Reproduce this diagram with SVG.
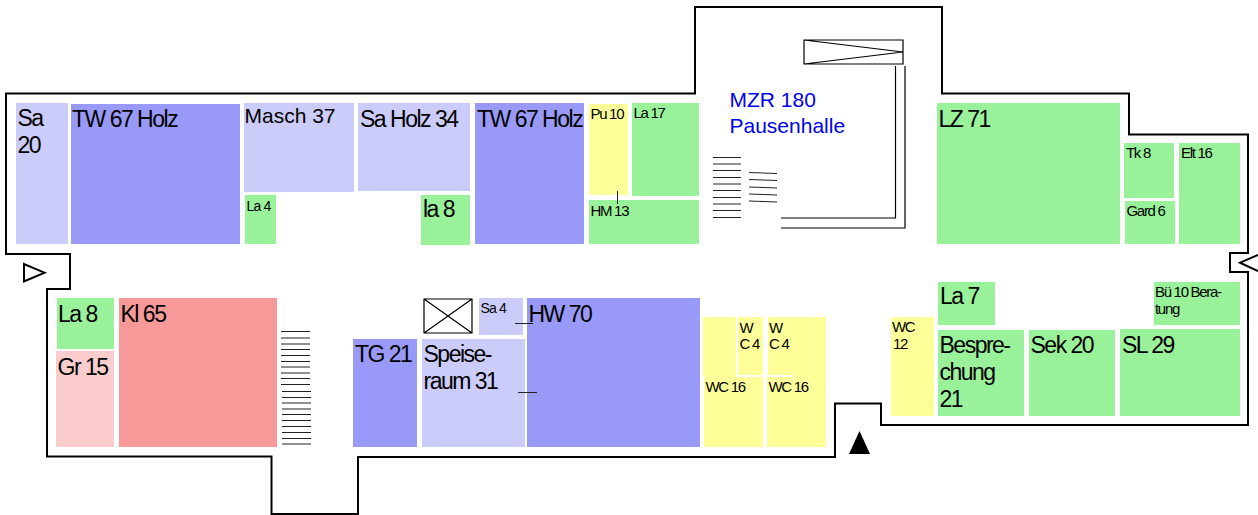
<svg xmlns="http://www.w3.org/2000/svg" width="1258" height="515" viewBox="0 0 1258 515">
<style>
text{font-family:"Liberation Sans",Arial,sans-serif;fill:#000}
.lg{font-size:23px;letter-spacing:-1.5px}
.sm{font-size:15px;letter-spacing:-1.300px}
.xs{font-size:14px;letter-spacing:-.8px}
.md{font-size:21px}
.bl{font-size:21px;fill:#0000f0}
.a{fill:#9999f7}.b{fill:#ccccfa}.g{fill:#99f299}.y{fill:#ffff99}.r{fill:#f89999}.p{fill:#fbcccc}
.wall{fill:none;stroke:#000;stroke-width:2}
.thin{fill:none;stroke:#000;stroke-width:1.2}
.st{fill:none;stroke:#222;stroke-width:1}
</style>
<g id="walls">
<path class="wall" d="M6 93.500H695V7H942V93.500H1129V134.500H1248V253H1230V272H1248V425H881V403.500H835V457H358V514H271.500V456.500H47V289H70V254H6Z"/>
<path class="wall" d="M24 264V281.500L44.500 272.700Z"/>
<path class="wall" d="M1258 255L1240 262.700L1258 271"/>
<path d="M849 454L859.500 431L870 454Z" fill="#000"/>
</g>
<g id="lift">
<path class="thin" d="M804 40H903V64H804ZM804 40L903 52L804 64"/>
<path class="thin" d="M781 228H905V66M781 218H895.500V66"/>
</g>
<g id="stairs">
<path class="st" d="M713 157.500h28M713 164h28M713 170.500h28M713 177.500h28M713 184h28M713 190.500h28M713 197.500h28M713 204h28M713 210.500h28M713 217.500h28"/>
<path class="st" d="M749 172.500l28 1M749 179.500l28 1M749 187l28 1M749 194l28 1M749 201l28 1"/>
<path class="st" d="M281 331.500h29M281 338h29M281 344h29M281 349.500h29M281 355.500h29M281 361.500h29M281 367h29M281 373h29M281 378.500h29M281 384.500h29M282 391.500h29M282 397.500h29M282 403h29M282 409h29M282 414.500h29M282 420.500h29M282 426.500h29M282 432.500h29M282 438.500h29M282 444h29"/>
</g>
<g id="sa20"><rect class="b" x="16" y="103" width="52" height="141"/><text class="lg" x="17.500" y="125.500">Sa</text><text class="lg" x="17.500" y="153">20</text></g>
<g id="tw67a"><rect class="a" x="71" y="104" width="169" height="140"/><text class="lg" x="72" y="126.700">TW 67 Holz</text></g>
<g id="masch37"><rect class="b" x="244" y="103" width="110" height="89"/><text class="md" x="244.500" y="122.700">Masch 37</text></g>
<g id="saholz34"><rect class="b" x="358" y="103" width="112" height="88"/><text class="lg" x="360" y="126.700">Sa Holz 34</text></g>
<g id="la4"><rect class="g" x="245" y="195" width="31" height="49"/><text class="xs" x="246.500" y="210.700">La 4</text></g>
<g id="la8a"><rect class="g" x="421" y="195" width="49" height="50"/><text class="lg" x="423" y="217">la 8</text></g>
<g id="tw67b"><rect class="a" x="475" y="103" width="109" height="141"/><text class="lg" x="477" y="126.700">TW 67 Holz</text></g>
<g id="pu10"><rect class="y" x="589" y="104" width="39" height="91"/><text class="sm" x="590.500" y="118.700">Pu 10</text></g>
<g id="la17"><rect class="g" x="632" y="103" width="67" height="93"/><text class="sm" x="633.500" y="118">La 17</text></g>
<g id="hm13"><rect class="g" x="589" y="200" width="110" height="44"/><text class="sm" x="590.500" y="216">HM 13</text></g>
<path class="st" d="M617.500 191V204"/>
<g id="mzr180"><text class="bl" x="729.500" y="107.300">MZR 180</text><text class="bl" x="729.500" y="132.700">Pausenhalle</text></g>
<g id="lz71"><rect class="g" x="937" y="103" width="183" height="141"/><text class="lg" x="938.500" y="126.700">LZ 71</text></g>
<g id="tk8"><rect class="g" x="1124" y="143" width="50" height="55"/><text class="sm" x="1126" y="157.700">Tk 8</text></g>
<g id="gard6"><rect class="g" x="1125" y="201" width="50" height="43"/><text class="sm" x="1126.500" y="216">Gard 6</text></g>
<g id="elt16"><rect class="g" x="1179" y="143" width="61" height="101"/><text class="sm" x="1181" y="157.700">Elt 16</text></g>
<g id="la7"><rect class="g" x="938" y="282" width="57" height="43"/><text class="lg" x="940" y="304.300">La 7</text></g>
<g id="bu10"><rect class="g" x="1154" y="282" width="86" height="43"/><text class="sm" x="1155" y="297.300">Bü 10 Bera-</text><text class="sm" x="1155" y="314">tung</text></g>
<g id="wc12"><rect class="y" x="891" y="317" width="43" height="99"/><text class="sm" x="892" y="332">WC</text><text class="sm" x="893" y="349">12</text></g>
<g id="besprechung21"><rect class="g" x="938" y="330" width="86" height="86"/><text class="lg" x="939.500" y="353">Bespre-</text><text class="lg" x="939.500" y="380">chung</text><text class="lg" x="939.500" y="406.700">21</text></g>
<g id="sek20"><rect class="g" x="1029" y="330" width="86" height="86"/><text class="lg" x="1030.500" y="353">Sek 20</text></g>
<g id="sl29"><rect class="g" x="1120" y="329" width="120" height="87"/><text class="lg" x="1122" y="353">SL 29</text></g>
<g id="la8b"><rect class="g" x="57" y="298" width="57" height="51"/><text class="lg" x="58" y="321.700">La 8</text></g>
<g id="gr15"><rect class="p" x="56" y="351" width="58" height="96"/><text class="lg" x="57.500" y="375">Gr 15</text></g>
<g id="kl65"><rect class="r" x="119" y="298" width="158" height="149"/><text class="lg" x="120.500" y="321.700">Kl 65</text></g>
<g id="tg21"><rect class="a" x="353" y="339" width="64" height="108"/><text class="lg" x="355" y="361.700">TG 21</text></g>
<g id="speiseraum31"><rect class="b" x="422" y="339" width="103" height="108"/><text class="lg" x="423.500" y="361.700">Speise-</text><text class="lg" x="423.500" y="389">raum 31</text></g>
<g id="schacht"><path class="thin" d="M424 299H472V333H424ZM424 299L472 333M424 333L472 299"/></g>
<g id="sa4"><rect class="b" x="479" y="298" width="44" height="37"/><text class="xs" x="480.500" y="312.700">Sa 4</text></g>
<g id="hw70"><rect class="a" x="527" y="298" width="173" height="149"/><text class="lg" x="528.500" y="321.700">HW 70</text></g>
<path class="st" d="M515 323.500H533M518 392.500H537"/>
<g id="wc16a"><rect class="y" x="703" y="317" width="33" height="60"/><rect class="y" x="704" y="377" width="59" height="70"/><text class="sm" x="705.500" y="391.700">WC 16</text></g>
<g id="wc4a"><rect class="y" x="738" y="317" width="25" height="58"/><text class="sm" x="739.500" y="333">W</text><text class="sm" x="739.500" y="349">C 4</text></g>
<g id="wc4b"><rect class="y" x="768" y="317" width="25" height="58"/><rect class="y" x="793" y="317" width="33" height="60"/><text class="sm" x="769" y="333">W</text><text class="sm" x="769" y="349">C 4</text></g>
<g id="wc16b"><rect class="y" x="767" y="377" width="59" height="70"/><text class="sm" x="768.500" y="392">WC 16</text></g>
</svg>
